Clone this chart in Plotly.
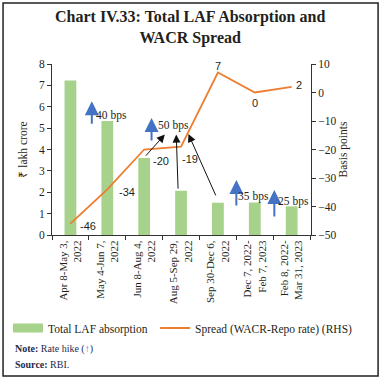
import plotly.graph_objects as go

categories = ["Apr 8-May 3,<br>2022", "May 4-Jun 7,<br>2022", "Jun 8-Aug 4,<br>2022",
              "Aug 5-Sep 29,<br>2022", "Sep 30-Dec 6,<br>2022", "Dec 7, 2022-<br>Feb 7, 2023",
              "Feb 8, 2022-<br>Mar 31, 2023"]
laf_absorption = [7.23, 5.33, 3.6, 2.07, 1.51, 1.52, 1.34]
spread = [-46, -34, -20, -19, 7, 0, 2]
spread_labels = ["-46", "-34", "-20", "-19", "7", "0", "2"]
# label offsets (px) relative to each point
label_shift = [(18, -2), (20, -3), (17, -11), (9, -12), (0, 7), (0, -10), (7, 2)]

# rate hikes: (x position as category index, arrow base, arrow tip, label x, label y, text)
hikes = [
    (0.58, 5.14, 6.26, 1.11, 5.6, "40 bps"),
    (2.2, 4.35, 5.47, 2.8, 5.14, "50 bps"),
    (4.5, 1.31, 2.57, 4.97, 1.78, "35 bps"),
    (5.53, 0.79, 2.1, 6.05, 1.59, "25 bps"),
]
# black pointer arrows to the 50 bps hike: (tail x, tail y, head x, head y)
pointers = [
    (2.01, 3.64, 2.56, 4.7),
    (2.92, 2.1, 2.87, 4.7),
    (3.96, 1.78, 3.2, 4.72),
]

SERIF = "Liberation Serif"
SANS = "Liberation Sans"
TXT = "#231f20"
GREEN = "#a6d28c"
ORANGE = "#ed7d31"

fig = go.Figure()
fig.add_trace(go.Bar(x=categories, y=laf_absorption, name="Total LAF absorption",
                     marker=dict(color=GREEN, line=dict(width=0)), yaxis="y", showlegend=False))
fig.add_trace(go.Scatter(x=categories, y=spread, name="Spread (WACR-Repo rate) (RHS)",
                         mode="lines", line=dict(color=ORANGE, width=1.8), yaxis="y2",
                         legend="legend2"))
# legend swatch for the bars (wide rectangle as in the reference)
fig.add_trace(go.Scatter(x=[None], y=[None], name="Total LAF absorption", mode="lines",
                         line=dict(color=GREEN, width=9), legend="legend", hoverinfo="skip"))

annotations = []
for i, (lab, (dx, dy)) in enumerate(zip(spread_labels, label_shift)):
    annotations.append(dict(x=i, y=spread[i], xref="x", yref="y2", text=lab, showarrow=False,
                            xshift=dx, yshift=dy, font=dict(family=SANS, size=11, color=TXT)))

for (hx, y0, y1, tx, ty, t) in hikes:
    annotations.append(dict(x=hx, y=y1, ax=hx, ay=y0, xref="x", yref="y", axref="x", ayref="y",
                            text="", showarrow=True, arrowhead=2, arrowsize=1.4, arrowwidth=2,
                            arrowcolor="#4472c4"))
    annotations.append(dict(x=tx, y=ty, xref="x", yref="y", text=t, showarrow=False,
                            font=dict(family=SERIF, size=11.5, color=TXT)))

for (x0, y0, x1, y1) in pointers:
    annotations.append(dict(x=x1, y=y1, ax=x0, ay=y0, xref="x", yref="y", axref="x", ayref="y",
                            text="", showarrow=True, arrowhead=2, arrowsize=1.6, arrowwidth=1,
                            arrowcolor="#111111"))

# title
annotations.append(dict(x=0.533, y=1.213, xref="paper", yref="paper", showarrow=False,
                        xanchor="center", yanchor="middle",
                        text="<b>Chart IV.33: Total LAF Absorption and<br>WACR Spread</b>",
                        font=dict(family=SERIF, size=16, color=TXT), align="center"))
# notes
annotations.append(dict(x=-0.152, y=-0.667, xref="paper", yref="paper", showarrow=False,
                        xanchor="left", yanchor="middle",
                        text="<b>Note:</b> Rate hike (<span style='color:#4472c4'><b>↑</b></span>)",
                        font=dict(family=SERIF, size=10, color="#1f2a4d")))
annotations.append(dict(x=-0.152, y=-0.76, xref="paper", yref="paper", showarrow=False,
                        xanchor="left", yanchor="middle",
                        text="<b>Source:</b> RBI.",
                        font=dict(family=SERIF, size=10, color="#1f2a4d")))

shapes = [dict(type="rect", xref="paper", yref="paper", x0=-0.189, x1=1.259, y0=-0.825, y1=1.357,
               line=dict(color="#222222", width=1.5))]

legend_common = dict(orientation="h", xanchor="left", yanchor="middle",
                     font=dict(family=SERIF, size=11.5, color=TXT), bgcolor="rgba(0,0,0,0)",
                     itemwidth=30)

fig.update_layout(
    width=381, height=380,
    margin=dict(l=52, r=70, t=64, b=145, autoexpand=False),
    paper_bgcolor="white", plot_bgcolor="white",
    bargap=0.68,
    showlegend=True,
    legend=dict(x=-0.17, y=-0.544, **legend_common),
    legend2=dict(x=0.398, y=-0.544, **legend_common),
    xaxis=dict(type="category", tickangle=-90, tickson="boundaries", ticks="outside", ticklen=4,
               tickcolor="#333", showline=True, linecolor="#333", linewidth=1, showgrid=False,
               tickfont=dict(family=SERIF, size=11, color=TXT)),
    yaxis=dict(range=[0, 8], dtick=1, ticks="outside", ticklen=4, tickcolor="#333",
               showline=True, linecolor="#333", linewidth=1, showgrid=False, zeroline=False,
               title=dict(text="₹ lakh crore", font=dict(family=SERIF, size=11.5, color=TXT), standoff=8),
               tickfont=dict(family=SERIF, size=11.5, color=TXT)),
    yaxis2=dict(range=[-50, 10], dtick=10, overlaying="y", side="right", ticks="outside", ticklen=4,
                tickcolor="#333", showline=True, linecolor="#333", linewidth=1, showgrid=False,
                zeroline=False,
                title=dict(text="Basis points", font=dict(family=SERIF, size=11.5, color=TXT), standoff=2),
                tickfont=dict(family=SERIF, size=11.5, color=TXT)),
    annotations=annotations,
    shapes=shapes,
)

fig.write_html("out.html", config={"displayModeBar": False},
               post_script="document.body.style.margin='0';document.body.style.overflow='hidden';")
